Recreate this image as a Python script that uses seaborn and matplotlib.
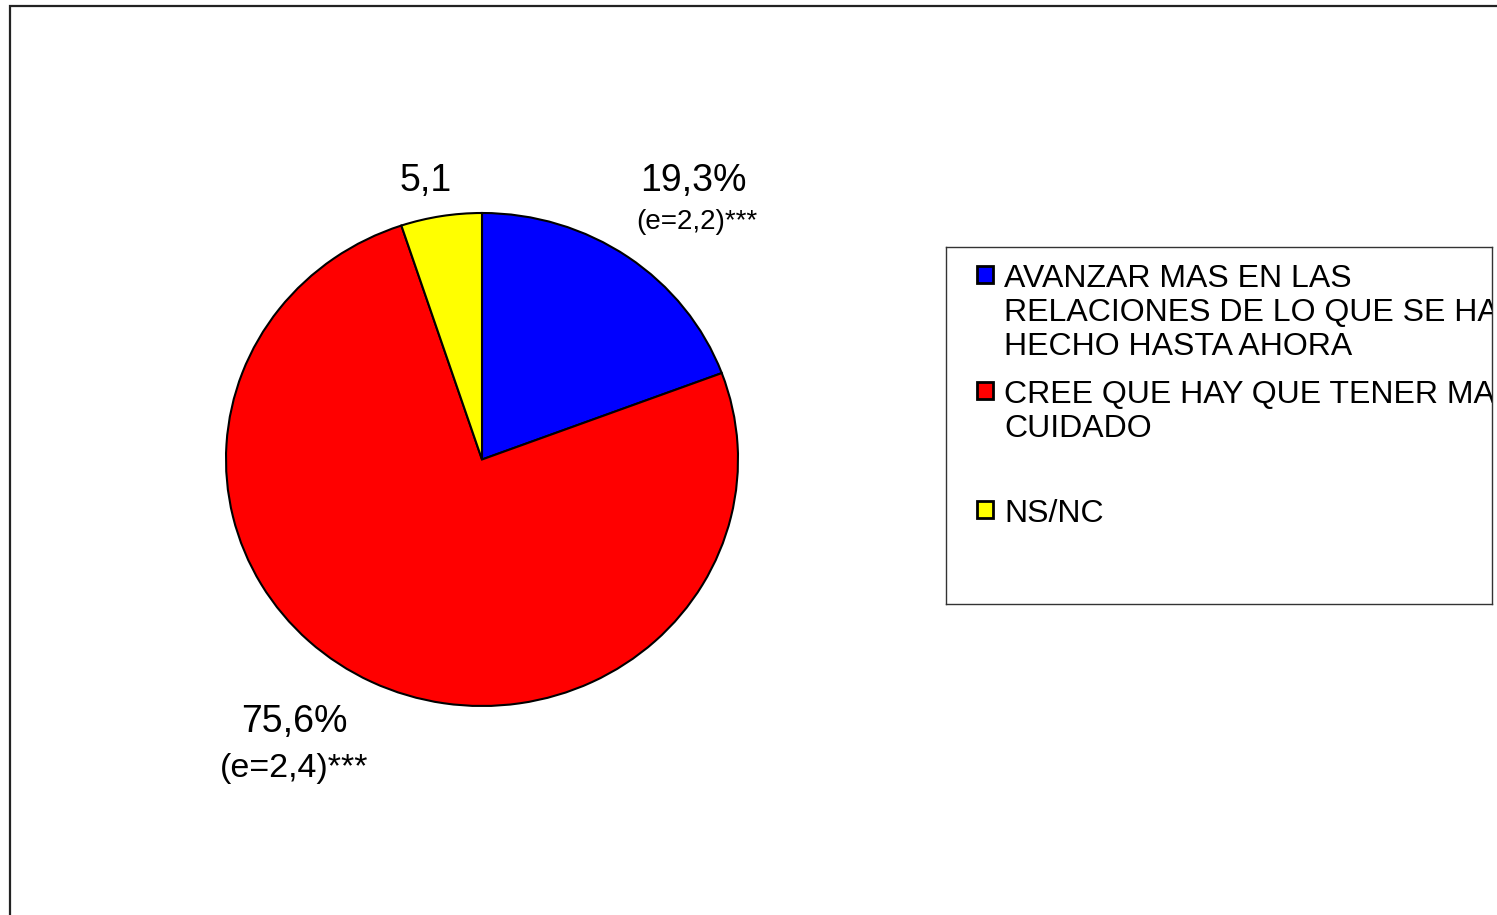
import matplotlib
matplotlib.use("Agg")
import matplotlib.pyplot as plt
import seaborn as sns
from matplotlib.patches import Rectangle

categories = [
    "AVANZAR MAS EN LAS\nRELACIONES DE LO QUE SE HA\nHECHO HASTA AHORA",
    "CREE QUE HAY QUE TENER MAS\nCUIDADO",
    "NS/NC",
]
values = [19.3, 75.6, 5.1]
colors = ["#0000FF", "#FF0000", "#FFFF00"]

sns.set_theme(style="white")
plt.rcParams["font.family"] = ["Liberation Sans", "DejaVu Sans"]
plt.rcParams["text.color"] = "black"

W, H = 1497, 915
fig = plt.figure(figsize=(W / 100, H / 100), dpi=100)
fig.patch.set_facecolor("white")


def fx(x):
    return x / W


def fy(y):
    return 1 - y / H


# outer frame (only top and left visible)
fig.add_artist(Rectangle((fx(10), -0.05), 1.2, fy(6) + 0.05, transform=fig.transFigure,
                         fill=False, edgecolor="#222222", lw=1.6))

# pie (slightly wider than tall, like the source)
ax = fig.add_axes([fx(226), fy(706), fx(738) - fx(226), fy(213) - fy(706)])
ax.pie(values, colors=colors, startangle=90, counterclock=False,
       wedgeprops=dict(edgecolor="black", linewidth=1.5))
ax.set_aspect("auto")
ax.set_xlim(-1, 1)
ax.set_ylim(-1, 1)
ax.axis("off")

# value labels
fig.text(fx(426), fy(181), "5,1", ha="center", va="center", fontsize=27)
fig.text(fx(693), fy(181), "19,3%", ha="center", va="center", fontsize=27)
fig.text(fx(697), fy(222), "(e=2,2)***", ha="center", va="center", fontsize=20)
fig.text(fx(294), fy(722), "75,6%", ha="center", va="center", fontsize=27)
fig.text(fx(294), fy(768), "(e=2,4)***", ha="center", va="center", fontsize=24.5)

# legend box
lx0, ly0, lx1, ly1 = 946, 247, 1492, 604
lax = fig.add_axes([fx(lx0), fy(ly1), fx(lx1) - fx(lx0), fy(ly0) - fy(ly1)])
lax.set_xticks([])
lax.set_yticks([])
lax.set_facecolor("white")
for s in lax.spines.values():
    s.set_edgecolor("#333333")
    s.set_linewidth(1.0)

entry_baselines = [287, 403, 522]
line_step = 34
for cat, col, yb in zip(categories, colors, entry_baselines):
    sq = Rectangle((fx(977), fy(yb - 4)), fx(16), fy(0) - fy(17),
                   transform=fig.transFigure, facecolor=col,
                   edgecolor="black", lw=2)
    lax.add_patch(sq)
    for i, line in enumerate(cat.split("\n")):
        lax.text(fx(1004), fy(yb + i * line_step), line, transform=fig.transFigure,
                 ha="left", va="baseline", fontsize=23, clip_on=True)

fig.savefig("out.png", dpi=100)
